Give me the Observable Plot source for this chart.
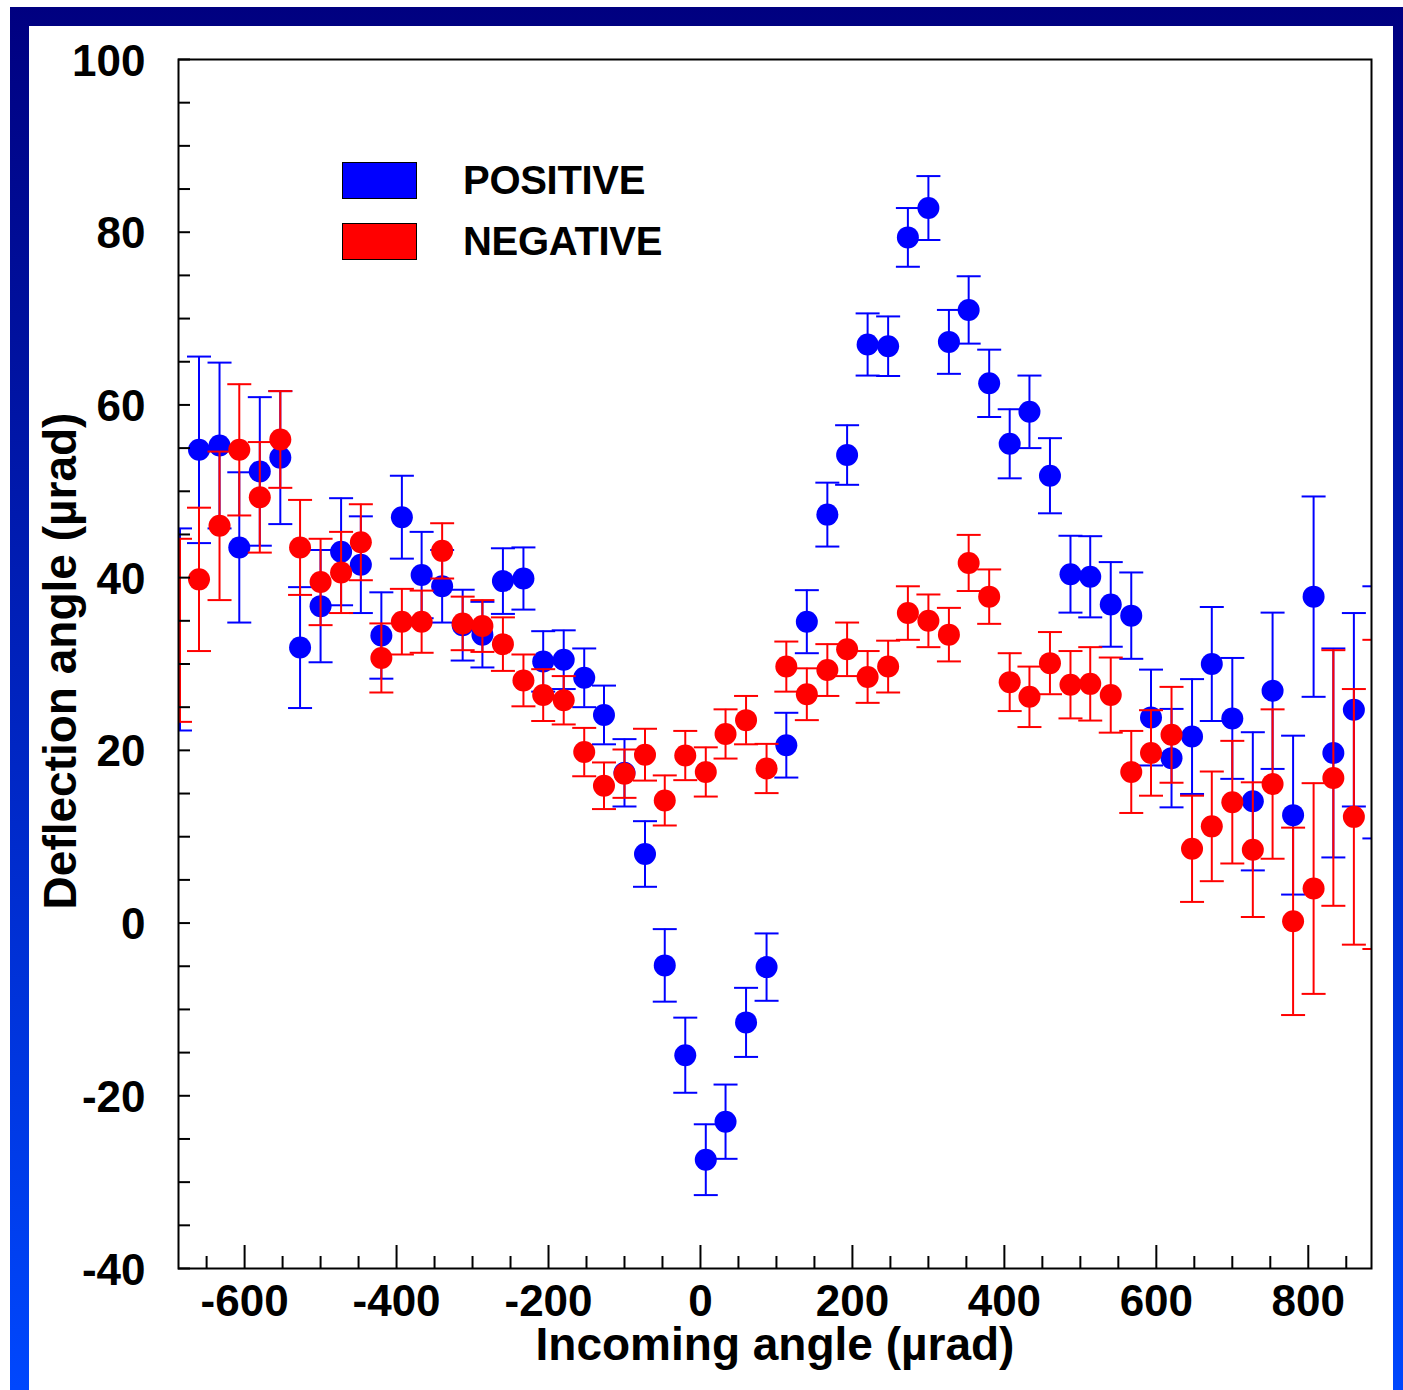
<!DOCTYPE html>
<html>
<head>
<meta charset="utf-8">
<script src="https://cdn.jsdelivr.net/npm/d3@7"></script>
<script src="https://cdn.jsdelivr.net/npm/@observablehq/plot@0.6"></script>
<style>
  html, body { margin: 0; padding: 0; background: #ffffff; }
  #page { position: relative; width: 1403px; height: 1390px; overflow: hidden; background: #ffffff; font-family: "Liberation Sans", Arial, Helvetica, sans-serif; }
  #border { position: absolute; left: 10px; top: 7px; width: 1402px; height: 1402px; background: linear-gradient(to bottom, #000080 0%, #0048ff 100%); }
  #inner { position: absolute; left: 29px; top: 26px; width: 1364px; height: 1380px; background: #ffffff; }
  #chart { position: absolute; left: 0; top: 0; }
  .swatch { position: absolute; left: 342px; width: 73px; height: 35px; border: 1px solid #000; }
  .legtext { position: absolute; left: 463px; font-size: 40px; line-height: 40px; font-weight: bold; letter-spacing: -0.3px; color: #000; white-space: nowrap; }
</style>
</head>
<body>
<div id="page">
  <div id="border"></div>
  <div id="inner"></div>
  <div id="chart"></div>
  <div id="legend"></div>
</div>
<script>
// ---------------- data ----------------
const seriesNames = ["POSITIVE", "NEGATIVE"];
const seriesColors = ["#0000ff", "#ff0000"];

// bin centres of the incoming angle (µrad)
const incomingAngle = [-660, -633, -607, -580, -553, -527, -500, -473, -447, -420,
  -393, -367, -340, -313, -287, -260, -233, -207, -180, -153,
  -127, -100, -73, -47, -20, 7, 33, 60, 87, 113,
  140, 167, 193, 220, 247, 273, 300, 327, 353, 380,
  407, 433, 460, 487, 513, 540, 567, 593, 620, 647,
  673, 700, 727, 753, 780, 807, 833, 860];

const positiveDeflection = [54.8, 55.3, 43.5, 52.3, 53.9, 31.9, 36.7, 43.0, 41.5, 33.3,
  47.0, 40.3, 39.0, 34.5, 33.4, 39.6, 39.9, 30.3, 30.5, 28.4,
  24.1, 17.4, 8.0, -4.9, -15.3, -27.4, -23.0, -11.5, -5.1, 20.6,
  34.9, 47.3, 54.2, 67.0, 66.8, 79.4, 82.8, 67.3, 71.0, 62.5,
  55.5, 59.2, 51.8, 40.4, 40.1, 36.9, 35.6, 23.8, 19.1, 21.6,
  30.0, 23.7, 14.1, 26.9, 12.5, 37.8, 19.7, 24.7];
const positiveError = [10.8, 9.6, 8.7, 8.6, 7.7, 7.0, 6.5, 6.2, 5.6, 5.0,
  4.8, 5.0, 4.2, 4.1, 3.8, 3.8, 3.6, 3.5, 3.4, 3.4,
  3.4, 3.9, 3.8, 4.2, 4.35, 4.1, 4.3, 4.0, 3.9, 3.75,
  3.65, 3.7, 3.45, 3.6, 3.45, 3.4, 3.7, 3.7, 3.9, 3.9,
  4.0, 4.2, 4.35, 4.45, 4.7, 4.9, 5.0, 5.55, 5.7, 6.65,
  6.6, 7.0, 8.0, 9.05, 9.2, 11.6, 12.1, 11.2];

const negativeDeflection = [39.8, 46.0, 54.8, 49.3, 56.0, 43.5, 39.5, 40.6, 44.1, 30.7,
  34.9, 34.9, 43.1, 34.7, 34.4, 32.3, 28.1, 26.4, 25.8, 19.8,
  15.9, 17.3, 19.5, 14.2, 19.4, 17.5, 21.9, 23.5, 17.9, 29.7,
  26.5, 29.3, 31.7, 28.5, 29.7, 35.9, 35.0, 33.4, 41.7, 37.8,
  27.9, 26.2, 30.1, 27.6, 27.7, 26.4, 17.5, 19.7, 21.8, 8.6,
  11.2, 14.0, 8.5, 16.1, 0.2, 4.0, 16.8, 12.3];
const negativeError = [8.3, 8.6, 7.6, 6.4, 5.6, 5.5, 5.0, 4.7, 4.4, 4.0,
  3.8, 3.6, 3.2, 3.1, 3.0, 3.1, 3.0, 3.0, 2.8, 2.8,
  2.7, 2.8, 3.0, 2.9, 2.85, 2.85, 2.85, 2.8, 2.85, 2.9,
  3.0, 3.0, 3.1, 3.0, 3.0, 3.1, 3.05, 3.1, 3.25, 3.15,
  3.35, 3.5, 3.6, 3.9, 4.25, 4.35, 4.75, 4.95, 5.55, 6.15,
  6.35, 7.1, 7.8, 8.65, 10.85, 12.2, 14.8, 14.8];

// partial bins cut by the frame edges (only their error bars show)
const edgeAngle = [-685, 887];
const edgePositive = [34.0, 24.4];
const edgePositiveError = [11.7, 14.6];
const edgeNegative = [33.9, 14.9];
const edgeNegativeError = [10.6, 17.9];

// axes
const xDomain = [-687, 883.2];
const yDomain = [-40, 100];
const xLabelTicks = [-600, -400, -200, 0, 200, 400, 600, 800];
const xMinorTicks = [-650, -550, -500, -450, -350, -300, -250, -150, -100, -50,
  50, 100, 150, 250, 300, 350, 450, 500, 550, 650, 700, 750, 850];
const yLabelTicks = [-40, -20, 0, 20, 40, 60, 80, 100];
const yAllTicks = [-40, -35, -30, -25, -20, -15, -10, -5, 0, 5, 10, 15, 20, 25, 30, 35,
  40, 45, 50, 55, 60, 65, 70, 75, 80, 85, 90, 95, 100];
const xTitle = "Incoming angle (\u00b5rad)";
const yTitle = "Deflection angle (\u00b5rad)";

// ---------------- build tables ----------------
function makeRows(xs, ys, es) {
  return xs.map((x, i) => ({x, y: ys[i], lo: ys[i] - es[i], hi: ys[i] + es[i]}));
}
const posRows = makeRows(incomingAngle, positiveDeflection, positiveError);
const negRows = makeRows(incomingAngle, negativeDeflection, negativeError);
const posEdge = makeRows(edgeAngle, edgePositive, edgePositiveError);
const negEdge = makeRows(edgeAngle, edgeNegative, edgeNegativeError);

const cap = {draw(context) { context.moveTo(-12, 0); context.lineTo(12, 0); }};

function seriesMarks(rows, edge, color) {
  const all = rows.concat(edge);
  return [
    Plot.ruleX(all, {x: "x", y1: "lo", y2: "hi", stroke: color, strokeWidth: 2, clip: true}),
    Plot.dot(all, {x: "x", y: "hi", symbol: cap, stroke: color, fill: "none", strokeWidth: 2, clip: true}),
    Plot.dot(all, {x: "x", y: "lo", symbol: cap, stroke: color, fill: "none", strokeWidth: 2, clip: true}),
    Plot.dot(rows, {x: "x", y: "y", r: 11, fill: color, stroke: "none", clip: true})
  ];
}

const font = "'Liberation Sans', Arial, Helvetica, sans-serif";

const chart = Plot.plot({
  width: 1403,
  height: 1390,
  marginTop: 59,
  marginRight: 32,
  marginBottom: 122,
  marginLeft: 178,
  style: {background: "transparent", fontFamily: font, color: "#000", overflow: "visible"},
  x: {type: "linear", domain: xDomain},
  y: {type: "linear", domain: yDomain},
  marks: [
    ...seriesMarks(posRows, posEdge, seriesColors[0]),
    ...seriesMarks(negRows, negEdge, seriesColors[1]),
    Plot.axisX({ticks: xMinorTicks, tickSize: -12, text: null, label: null, strokeWidth: 2, stroke: "#000"}),
    Plot.axisX({ticks: xLabelTicks, tickSize: -23, text: null, label: null, strokeWidth: 2, stroke: "#000"}),
    Plot.axisX({ticks: xLabelTicks, tickSize: 0, tickPadding: 16, label: null, fontSize: 44, fontWeight: "bold", tickFormat: d => String(d)}),
    Plot.axisY({ticks: yAllTicks, tickSize: -12, text: null, label: null, strokeWidth: 2, stroke: "#000"}),
    Plot.axisY({ticks: yLabelTicks, tickSize: 0, tickPadding: 33, label: null, fontSize: 44, fontWeight: "bold", dy: 2, tickFormat: d => String(d)}),
    Plot.frame({stroke: "#000", strokeWidth: 2}),
    Plot.text([xTitle], {frameAnchor: "bottom", textAnchor: "middle", text: d => d, dy: 59, lineAnchor: "top", fontSize: 46, fontWeight: "bold", fill: "#000"}),
    Plot.text([yTitle], {frameAnchor: "left", textAnchor: "middle", text: d => d, rotate: -90, dx: -135, dy: -3, lineAnchor: "top", fontSize: 46, fontWeight: "bold", fill: "#000"})
  ]
});
document.getElementById("chart").appendChild(chart);

// legend
const legend = document.getElementById("legend");
const legendTops = [162, 223];
const textTops = [159.5, 221];
seriesNames.forEach((name, i) => {
  const sw = document.createElement("div");
  sw.className = "swatch";
  sw.style.top = legendTops[i] + "px";
  sw.style.background = seriesColors[i];
  legend.appendChild(sw);
  const t = document.createElement("div");
  t.className = "legtext";
  t.style.top = textTops[i] + "px";
  t.textContent = name;
  legend.appendChild(t);
});
</script>
</body>
</html>
